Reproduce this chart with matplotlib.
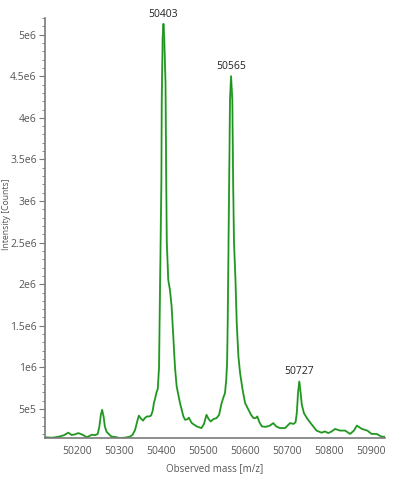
import matplotlib
matplotlib.use("Agg")
import matplotlib.pyplot as plt
from matplotlib.ticker import FixedLocator, MultipleLocator

mass = [50124.5, 50140, 50150, 50160, 50170, 50180, 50188, 50196, 50204, 50214, 50224, 50230, 50236, 50244,
        50250, 50254, 50257.5, 50260.5, 50264, 50267, 50271, 50276, 50283, 50290, 50303, 50315, 50327,
        50333, 50339, 50344, 50348, 50352, 50358, 50362, 50367, 50372, 50377, 50381, 50384, 50386,
        50390, 50393, 50396, 50398, 50400, 50401.5, 50402.5, 50404.5, 50406.5, 50408.5, 50411.5, 50413,
        50414.5, 50418, 50422, 50426, 50430, 50434, 50438, 50446, 50454, 50458, 50463, 50467, 50474,
        50486, 50497, 50503, 50509, 50514, 50519, 50526, 50533, 50539, 50545, 50550, 50553, 50556,
        50558, 50559.5, 50560.5, 50561.3, 50562.5, 50565, 50567.5, 50570.5, 50572.5, 50574.5, 50578,
        50581, 50585, 50589, 50595, 50601, 50609, 50615, 50621, 50626, 50630, 50635, 50641, 50650,
        50660, 50668, 50675, 50684, 50696, 50708, 50716, 50721, 50724, 50727, 50730, 50733, 50736,
        50741, 50748, 50760, 50771, 50783, 50791, 50799, 50807, 50815, 50827, 50839, 50851, 50860,
        50867, 50879, 50892, 50902, 50914, 50926, 50934]
intensity = [1.6e5, 1.55e5, 1.6e5, 1.7e5, 1.85e5, 2.15e5, 1.87e5, 1.95e5, 2.1e5, 1.9e5, 1.6e5, 1.75e5, 1.9e5, 1.85e5,
             2.0e5, 2.9e5, 4.3e5, 4.9e5, 4.1e5, 2.9e5, 2.27e5, 2.0e5, 1.67e5, 1.65e5, 1.5e5, 1.55e5, 1.67e5,
             1.9e5, 2.48e5, 3.5e5, 4.2e5, 3.9e5, 3.6e5, 3.9e5, 4.1e5, 4.1e5, 4.2e5, 4.8e5, 5.8e5, 6.1e5,
             7.0e5, 7.4e5, 1.0e6, 1.8e6, 2.5e6, 3.2e6, 4.2e6, 4.95e6, 5.13e6, 4.95e6, 4.4e6, 3.3e6,
             2.5e6, 2.05e6, 1.93e6, 1.73e6, 1.37e6, 1.0e6, 7.7e5, 5.7e5, 4.1e5, 3.7e5, 3.75e5, 3.95e5, 3.3e5,
             2.9e5, 2.7e5, 3.2e5, 4.3e5, 3.8e5, 3.5e5, 3.8e5, 3.9e5, 4.3e5, 5.7e5, 6.5e5, 6.9e5, 8.5e5,
             1.05e6, 1.53e6, 2.05e6, 2.5e6, 3.0e6, 4.22e6, 4.5e6, 4.22e6, 3.2e6, 2.5e6, 2.05e6,
             1.53e6, 1.13e6, 9.3e5, 7.3e5, 5.7e5, 4.9e5, 4.3e5, 3.9e5, 3.9e5, 4.1e5, 3.4e5, 2.9e5, 2.85e5,
             3.0e5, 3.3e5, 2.9e5, 2.7e5, 2.7e5, 3.3e5, 3.2e5, 3.4e5, 4.5e5, 7.0e5, 8.3e5, 7.0e5, 5.5e5,
             4.5e5, 3.9e5, 3.1e5, 2.4e5, 2.15e5, 2.3e5, 2.1e5, 2.3e5, 2.6e5, 2.4e5, 2.4e5, 2.0e5, 2.4e5,
             3.0e5, 2.6e5, 2.4e5, 2.0e5, 2.0e5, 1.67e5, 1.65e5]

peak_labels = ["50403", "50565", "50727"]
peak_mass = [50406.5, 50567.5, 50730]
peak_int = [5.13e6, 4.5e6, 8.3e5]

x_ticks = [50200, 50300, 50400, 50500, 50600, 50700, 50800, 50900]
y_ticks = [5e5, 1e6, 1.5e6, 2e6, 2.5e6, 3e6, 3.5e6, 4e6, 4.5e6, 5e6]
y_tick_labels = ["5e5", "1e6", "1.5e6", "2e6", "2.5e6", "3e6", "3.5e6", "4e6", "4.5e6", "5e6"]

plt.rcParams['font.family'] = ['Open Sans', 'DejaVu Sans']
txt = '#555555'
spine = '#7a7a7a'

fig = plt.figure(figsize=(4, 4.8), dpi=100)
ax = fig.add_axes([0.1125, 0.0875, 0.85, 0.875])

ax.plot(mass, intensity, color='#45ad45', lw=1.4, solid_joinstyle='round')
ax.plot(mass, intensity, color='#178c17', lw=0.6, solid_joinstyle='round')

for lab, m, v in zip(peak_labels, peak_mass, peak_int):
    ax.annotate(lab, (m, v), xytext=(0, 3), textcoords='offset points',
                ha='center', va='bottom', fontsize=7.5, color='#222222')

ax.set_xlim(50124.5, 50934)
ax.set_ylim(1.51e5, 5.2e6)

ax.xaxis.set_major_locator(FixedLocator(x_ticks))
ax.set_xticklabels([str(t) for t in x_ticks])
ax.yaxis.set_major_locator(FixedLocator(y_ticks))
ax.set_yticklabels(y_tick_labels)
ax.yaxis.set_minor_locator(MultipleLocator(1e5))

ax.tick_params(axis='x', length=0, pad=6, labelsize=7.5, labelcolor=txt)
ax.tick_params(axis='y', which='major', length=4, width=0.8, color=spine, pad=2, labelsize=7.5, labelcolor=txt)
ax.tick_params(axis='y', which='minor', length=2, width=0.6, color=spine)

for s in ['top', 'right']:
    ax.spines[s].set_visible(False)
for s in ['left', 'bottom']:
    ax.spines[s].set_color(spine)
    ax.spines[s].set_linewidth(1.2)

ax.set_xlabel("Observed mass [m/z]", fontsize=7, color=txt, labelpad=4)
ax.set_ylabel("Intensity [Counts]", fontsize=6.2, color=txt)
ax.yaxis.set_label_coords(-0.1, 0.533)

fig.savefig("out.png", dpi=100)
